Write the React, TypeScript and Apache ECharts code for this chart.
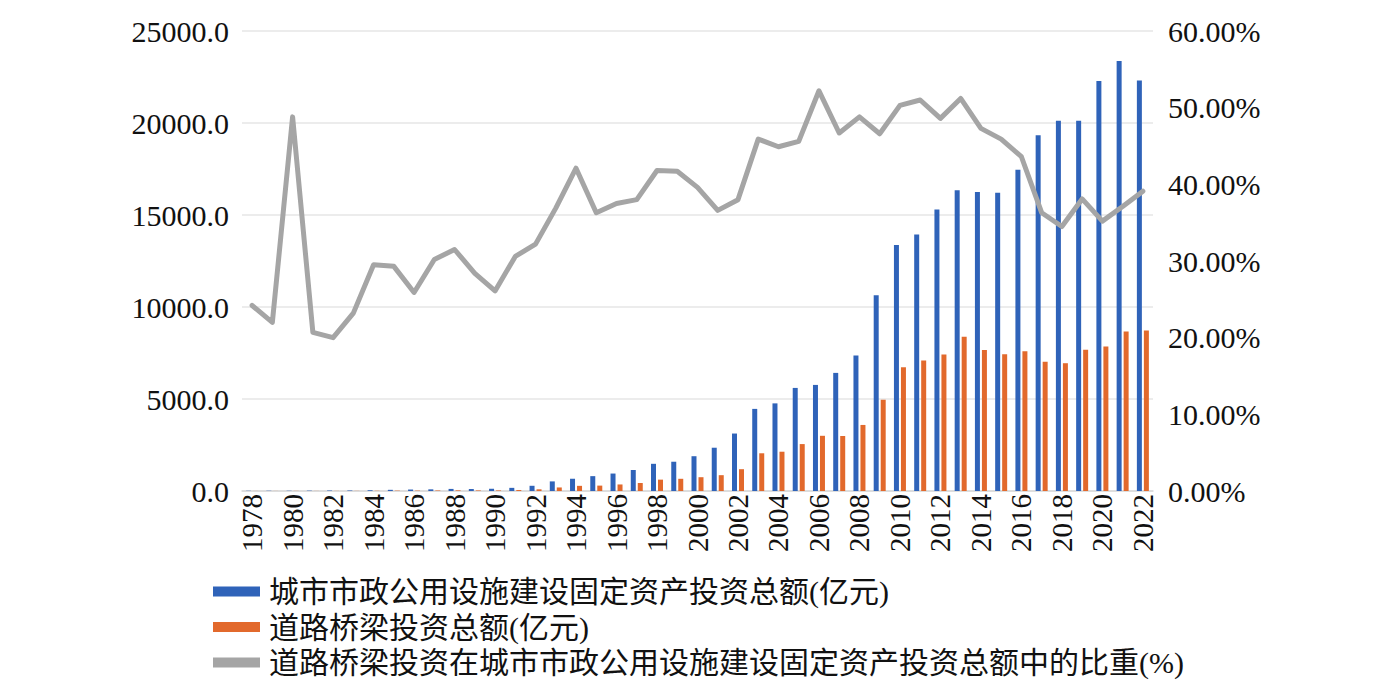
import React, { useEffect, useRef } from "react";
import * as echarts from "echarts";

const years: string[] = [];
for (let y = 1978; y <= 2022; y++) years.push(String(y));

const totalInvestment = [
  12.0, 14.2, 14.4, 19.5, 27.2, 28.2, 41.7, 64.0, 80.1, 90.3,
  113.2, 107.0, 121.2, 170.9, 283.2, 521.8, 666.0, 807.6, 948.6, 1142.7,
  1477.6, 1590.8, 1890.7, 2351.9, 3123.2, 4462.4, 4762.2, 5602.2, 5765.1, 6418.9,
  7368.2, 10641.5, 13363.9, 13934.2, 15296.4, 16349.8, 16245.0, 16204.4, 17460.0, 19327.6,
  20123.2, 20126.3, 22283.9, 23371.7, 22309.0,
];

const roadBridgeInvestment = [
  2.9, 3.1, 7.0, 4.0, 5.4, 6.5, 12.3, 18.8, 20.7, 27.3,
  35.7, 30.4, 31.6, 52.3, 91.2, 192.5, 280.4, 293.2, 355.7, 434.2,
  617.6, 663.4, 750.0, 860.0, 1185.0, 2050.0, 2135.0, 2550.0, 3000.0, 2990.0,
  3590.0, 4960.0, 6725.0, 7090.0, 7420.0, 8380.0, 7660.0, 7430.0, 7600.0, 7020.0,
  6945.0, 7670.0, 7850.0, 8675.0, 8725.0,
];

const roadBridgeShare = [
  24.2, 22.0, 48.8, 20.7, 20.0, 23.2, 29.5, 29.3, 25.9, 30.2,
  31.5, 28.4, 26.1, 30.6, 32.2, 36.9, 42.1, 36.3, 37.5, 38.0,
  41.8, 41.7, 39.6, 36.6, 38.0, 45.9, 44.9, 45.6, 52.2, 46.7,
  48.8, 46.6, 50.3, 51.0, 48.6, 51.2, 47.3, 45.9, 43.6, 36.3,
  34.5, 38.1, 35.2, 37.1, 39.1,
];

const seriesNames = [
  "城市市政公用设施建设固定资产投资总额(亿元)",
  "道路桥梁投资总额(亿元)",
  "道路桥梁投资在城市市政公用设施建设固定资产投资总额中的比重(%)",
];

const FONT = "'Liberation Serif', 'Times New Roman', 'Noto Sans CJK SC', serif";

export default function App() {
  const ref = useRef<HTMLDivElement>(null);
  useEffect(() => {
    document.body.style.margin = "0";
    if (!ref.current) return;
    const chart = echarts.init(ref.current, undefined, { renderer: "svg" });
    chart.setOption({
      animation: false,
      backgroundColor: "#ffffff",
      textStyle: { fontFamily: FONT },
      grid: { left: 242, right: 239, top: 31, bottom: 198, containLabel: false },
      legend: {
        orient: "vertical",
        left: 208,
        top: 569,
        height: 118,
        itemWidth: 47,
        itemHeight: 10,
        itemGap: 0.5,
        icon: "rect",
        data: [
          { name: seriesNames[0], icon: "rect" },
          { name: seriesNames[1], icon: "rect" },
          { name: seriesNames[2], itemStyle: { color: "#A5A5A5" } },
        ],
        textStyle: {
          fontFamily: FONT,
          fontSize: 30,
          lineHeight: 35,
          color: "#111111",
          padding: [0, 0, 0, 4],
        },
      },
      xAxis: {
        type: "category",
        data: years,
        boundaryGap: true,
        axisLine: { show: true, lineStyle: { color: "#d9d9d9", width: 1.5 } },
        axisTick: { show: false },
        axisLabel: {
          interval: 1,
          rotate: 90,
          fontFamily: FONT,
          fontSize: 29,
          color: "#111111",
          margin: 3,
        },
      },
      yAxis: [
        {
          type: "value",
          min: 0,
          max: 25000,
          interval: 5000,
          axisLine: { show: false },
          axisTick: { show: false },
          splitLine: { show: true, lineStyle: { color: "#e6e6e6", width: 1.5 } },
          axisLabel: {
            fontFamily: FONT,
            fontSize: 30,
            color: "#111111",
            margin: 13,
            formatter: (v: number) => v.toFixed(1),
          },
        },
        {
          type: "value",
          min: 0,
          max: 60,
          interval: 10,
          axisLine: { show: false },
          axisTick: { show: false },
          splitLine: { show: false },
          axisLabel: {
            fontFamily: FONT,
            fontSize: 30,
            color: "#111111",
            margin: 15,
            formatter: (v: number) => v.toFixed(2) + "%",
          },
        },
      ],
      series: [
        {
          name: seriesNames[0],
          type: "bar",
          data: totalInvestment,
          barWidth: 5,
          barGap: "40%",
          itemStyle: { color: "#2F63B9" },
        },
        {
          name: seriesNames[1],
          type: "bar",
          data: roadBridgeInvestment,
          barWidth: 5,
          barGap: "40%",
          itemStyle: { color: "#E2692C" },
        },
        {
          name: seriesNames[2],
          type: "line",
          yAxisIndex: 1,
          data: roadBridgeShare,
          symbol: "none",
          showSymbol: false,
          z: 5,
          lineStyle: { color: "#A5A5A5", width: 5, join: "round", cap: "round" },
          itemStyle: { color: "#A5A5A5" },
        },
      ],
    });
    return () => chart.dispose();
  }, []);
  return <div ref={ref} style={{ width: 1392, height: 689 }} />;
}
